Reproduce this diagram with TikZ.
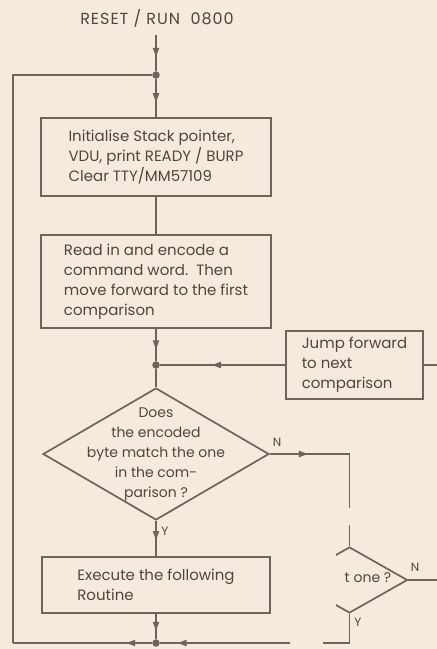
\documentclass[tikz,border=0pt]{standalone}
\usepackage{fontspec}
\newfontfamily\flowfont{Poppins}
\usetikzlibrary{arrows.meta, decorations.markings, shapes.geometric, positioning}
\definecolor{InkGray}{RGB}{108,100,94}
\definecolor{InkText}{RGB}{78,70,65}
\definecolor{PaperBg}{RGB}{246,234,223}
\tikzset{
  >=Latex,
  % blocks of the flow chart
  procbox/.style={draw=InkGray,line width=1.7pt,rectangle,align=left,inner sep=0pt,
    text=InkText,font=\flowfont\fontsize{15}{20}\selectfont},
  decision/.style={draw=InkGray,line width=1.7pt,diamond,inner sep=0pt},
  flowtext/.style={text=InkText,font=\flowfont\fontsize{14}{20}\selectfont},
  branch/.style={text=InkText,font=\flowfont\fontsize{12}{14}\selectfont},
  junction/.style={circle,fill=InkGray,inner sep=0pt,minimum size=7.5pt},
  % connectors
  flow/.style={InkGray,line width=1.7pt},
  midarrow/.style={postaction={decorate},decoration={markings,
    mark=at position #1 with {\arrow{Latex[length=11pt,width=7pt]}}}}
}
\begin{document}
\begin{tikzpicture}[x=1pt,y=-1pt]
    \fill[PaperBg](0,0) rectangle (437,649);
    \useasboundingbox (0,0) rectangle (437,649);
    \node[flowtext,font=\flowfont\fontsize{16}{20}\selectfont\addfontfeature{LetterSpace=6}] (title) at (157,18) {RESET / RUN\ \ 0800};
    \coordinate (entry) at (156,35);
    \node[junction] (topdot) at (156,75) {};
    \node[procbox,minimum width=230pt,minimum height=78pt] (init) at (156,157)
      {Initialise Stack pointer,\\VDU, print READY / BURP\\Clear TTY/MM57109};
    \node[procbox,minimum width=230pt,minimum height=93pt] (read) at (156,281.5)
      {Read in and encode a\\command word.\ \ Then\\move forward to the first\\comparison};
    \node[junction] (middot) at (156,365) {};
    \node[procbox,minimum width=137pt,minimum height=68pt] (jump) at (354.5,365)
      {Jump forward\\to next\\comparison};
    \node[decision,minimum width=226pt,minimum height=132pt] (match) at (156,454) {};
    \node[flowtext,align=center] (matchtext) at (match.center)
      {Does\\the encoded\\byte match the one\\in the com-\\parison ?};
    \node[procbox,minimum width=228pt,minimum height=56pt] (exec) at (156,585)
      {Execute the following\\Routine};
    \node[junction] (botdot) at (156,643) {};
    % second test, cut at the page edge
    \begin{scope}
      \clip (336,540) rectangle (437,620);
      \node[decision,minimum width=116pt,minimum height=66pt] (last) at (349.5,580) {};
    \end{scope}
    \node[flowtext] (lasttext) at (368,578) {t one ?};
    \node[branch] (matchno) at (277,442) {N};
    \node[branch] (matchyes) at (165,531) {Y};
    \node[branch] (lastno) at (415,567) {N};
    \node[branch] (lastyes) at (358,622) {Y};
    \coordinate (jumpout) at (437,365);
    \coordinate (gaptop) at (349.5,508);
    \coordinate (gapbot) at (349.5,525);
    \coordinate (lastout) at (437,580);
    \coordinate (cutright) at (323,643);
    \coordinate (cutleft) at (290,643);
    \coordinate (loopcorner) at (13,643);
    \draw[flow,midarrow=0.66](entry)--(topdot);
    \draw[flow,midarrow=0.66](topdot)--(init);
    \draw[flow](init)--(read);
    \draw[flow,midarrow=0.7](read)--(middot);
    \draw[flow,midarrow=0.6](jump)--(middot);
    \draw[flow](jump.east)--(jumpout);
    \draw[flow](middot)--(match);
    \draw[flow,midarrow=0.3](match.east)-|(gaptop);
    \draw[flow](gapbot)--(last.north);
    \draw[flow](last.east)--(lastout);
    \draw[flow,midarrow=0.6](match.south)--(exec);
    \draw[flow,midarrow=0.75](exec)--(botdot);
    \draw[flow](last.south)|-(cutright);
    \draw[flow,midarrow=0.88](cutleft)--(botdot);
    \draw[flow,midarrow=0.2](botdot)--(loopcorner);
    \draw[flow](loopcorner)|-(topdot);
\end{tikzpicture}
\end{document}
